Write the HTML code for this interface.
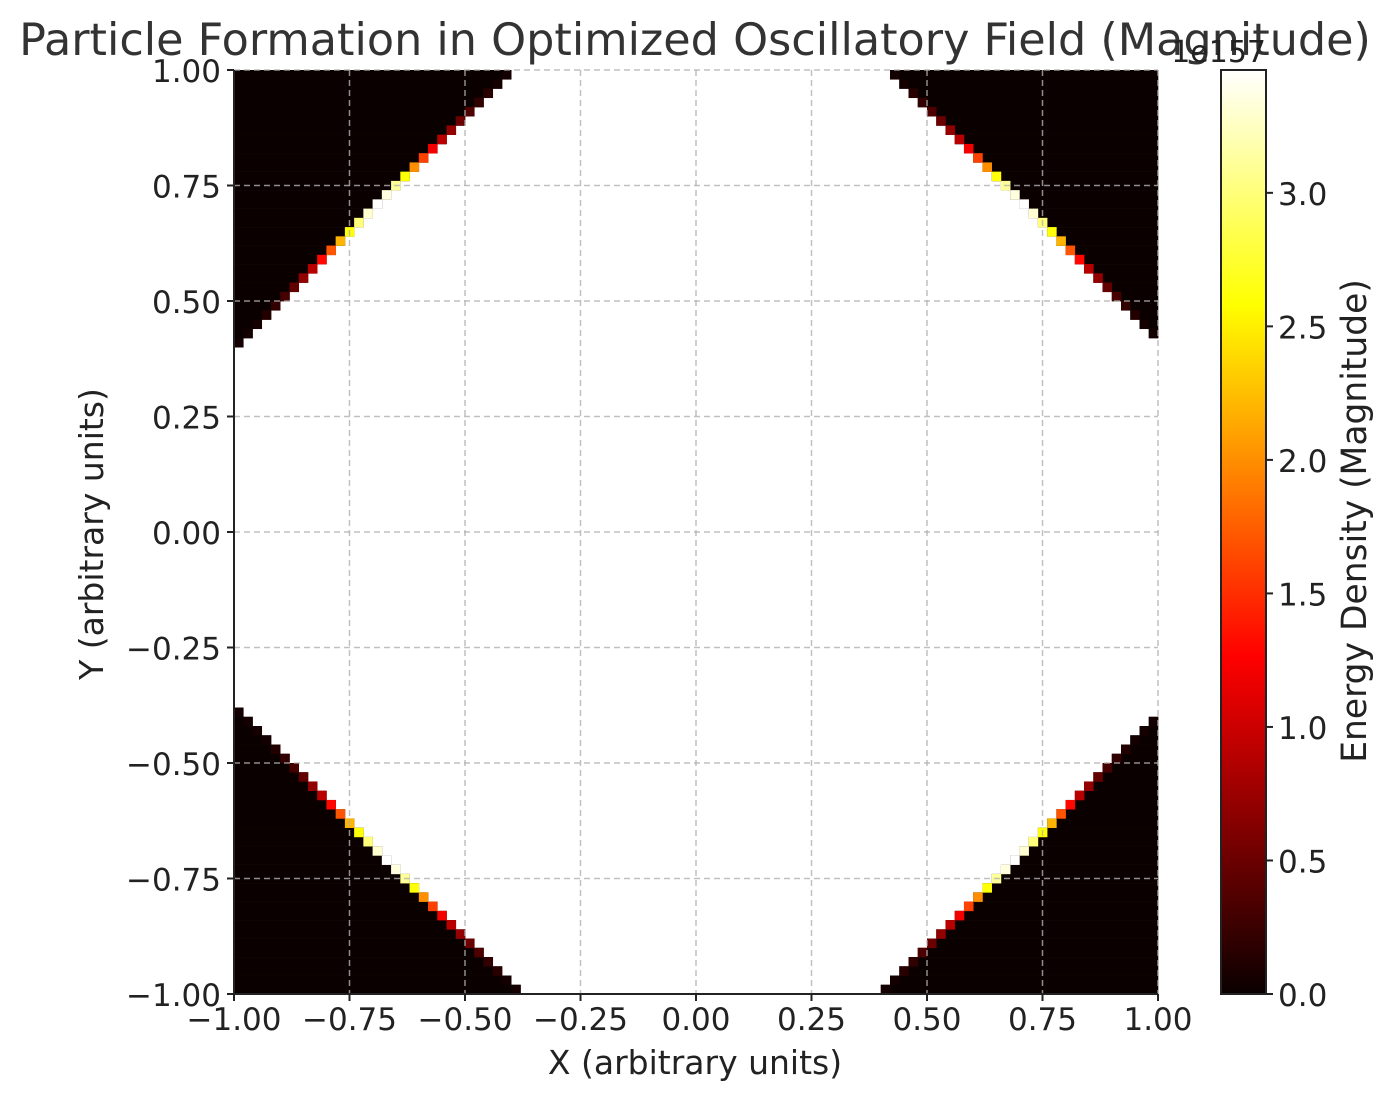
<!DOCTYPE html>
<html><head><meta charset="utf-8"><style>
body{margin:0;background:#fff;}
svg{font-family:"DejaVu Sans","Liberation Sans",sans-serif;}
</style></head><body>
<svg id="chart" width="1393" height="1101" viewBox="0 0 1393 1101">
<defs>
<linearGradient id="hot" x1="0" y1="1" x2="0" y2="0">
<stop offset="0" stop-color="rgb(10,0,0)"/>
<stop offset="0.365" stop-color="rgb(255,0,0)"/>
<stop offset="0.746" stop-color="rgb(255,255,0)"/>
<stop offset="1" stop-color="rgb(255,255,255)"/>
</linearGradient>
</defs>
<rect x="234" y="70" width="924" height="924" fill="#fff"/>
<g id="cells"></g>
<g id="grid"></g>
<g id="axes"></g>
<text x="695" y="55" font-size="44.5" text-anchor="middle" fill="#333">Particle Formation in Optimized Oscillatory Field (Magnitude)</text>
<text x="695" y="1074" font-size="33" text-anchor="middle" fill="#222">X (arbitrary units)</text>
<text transform="translate(103,534) rotate(-90)" font-size="33" text-anchor="middle" fill="#222">Y (arbitrary units)</text>
<rect x="1221" y="70" width="45" height="924" fill="url(#hot)" stroke="#222" stroke-width="2"/>
<g id="cbticks"></g>
<text x="1266" y="62" font-size="30" text-anchor="end" fill="#222">1e157</text>
<text transform="translate(1366,521) rotate(-90)" font-size="34.5" text-anchor="middle" fill="#222">Energy Density (Magnitude)</text>
</svg>
<script>
const N = 100;
const vmax = 3.46;
const xTicks = ["−1.00","−0.75","−0.50","−0.25","0.00","0.25","0.50","0.75","1.00"];
const yTicks = ["−1.00","−0.75","−0.50","−0.25","0.00","0.25","0.50","0.75","1.00"];
const tickValues = [-1,-0.75,-0.5,-0.25,0,0.25,0.5,0.75,1];
const cbTickValues = [0,0.5,1,1.5,2,2.5,3];
const cbTickLabels = ["0.0","0.5","1.0","1.5","2.0","2.5","3.0"];
const edgeProfile = [0.05,0.05,0.15,0.2,0.35,0.5,0.7,0.9,1.2,1.6,2.0,2.6,3.1,3.35,4.0,3.3,3.0,2.6,2.2,1.7,1.3,0.9,0.7,0.45,0.3,0.2,0.12,0.05,0.05,0.05,0.05];
const topLeftCounts = [30,29,28,27,26,25,24,23,22,21,20,19,18,17,16,15,14,13,12,11,10,9,8,7,6,5,4,3,2,1];
const topRightCounts = [29,28,27,26,25,24,23,22,21,20,19,18,17,16,15,14,13,12,11,10,9,8,7,6,5,4,3,2,1];
const bottomLeftCounts = [31,30,29,28,27,26,25,24,23,22,21,20,19,18,17,16,15,14,13,12,11,10,9,8,7,6,5,4,3,2,1];
const bottomRightCounts = [30,29,28,27,26,25,24,23,22,21,20,19,18,17,16,15,14,13,12,11,10,9,8,7,6,5,4,3,2,1];

const X0=234, X1=1158, Y0=70, Y1=994;
const cw=(X1-X0)/N;
const sx=v=>X0+(v+1)/2*(X1-X0);
const sy=v=>Y1-(v+1)/2*(Y1-Y0);
const cby=v=>994-v/vmax*924;
function hot(v){
  let t=Math.max(0,Math.min(1,v/vmax));
  let r=t<0.365?0.0416+(1-0.0416)*t/0.365:1;
  let g=t<0.365?0:(t<0.746?(t-0.365)/0.381:1);
  let b=t<0.746?0:(t-0.746)/0.254;
  return `rgb(${Math.round(r*255)},${Math.round(g*255)},${Math.round(b*255)})`;
}
const NS='http://www.w3.org/2000/svg';
function mk(tag,attrs,parent){const e=document.createElementNS(NS,tag);for(const k in attrs)e.setAttribute(k,attrs[k]);parent.appendChild(e);return e;}
const cells=document.getElementById('cells');
function drawRun(row,col0,len,edgeCol,val,name){
  const r=mk('rect',{x:X0+col0*cw,y:Y0+row*cw,width:len*cw+0.3,height:cw+0.3,fill:hot(0)},cells);
  
  
  const e=mk('rect',{x:X0+edgeCol*cw,y:Y0+row*cw,width:cw+0.3,height:cw+0.3,fill:hot(val)},cells);
  
  
}
topLeftCounts.forEach((c,i)=>drawRun(i,0,c,c-1,edgeProfile[i],'top-left'));
topRightCounts.forEach((c,i)=>drawRun(i,N-c,c,N-c,edgeProfile[i],'top-right'));
bottomLeftCounts.forEach((c,i)=>drawRun(N-1-i,0,c,c-1,edgeProfile[i],'bottom-left'));
bottomRightCounts.forEach((c,i)=>drawRun(N-1-i,N-c,c,N-c,edgeProfile[i],'bottom-right'));

const grid=document.getElementById('grid');
tickValues.forEach(v=>{
  const a=mk('line',{x1:sx(v),x2:sx(v),y1:Y0,y2:Y1,stroke:'#b0b0b0','stroke-width':1.5,'stroke-dasharray':'6,4','stroke-opacity':0.8},grid);
  
  
  const b=mk('line',{x1:X0,x2:X1,y1:sy(v),y2:sy(v),stroke:'#b0b0b0','stroke-width':1.5,'stroke-dasharray':'6,4','stroke-opacity':0.8},grid);
  
  
});
const axes=document.getElementById('axes');
const l1=mk('line',{x1:X0,x2:X0,y1:Y0,y2:Y1,stroke:'#222','stroke-width':2},axes);


const l2=mk('line',{x1:X0,x2:X1,y1:Y1,y2:Y1,stroke:'#222','stroke-width':2},axes);


tickValues.forEach((v,i)=>{
  const m1=mk('line',{x1:sx(v),x2:sx(v),y1:Y1,y2:Y1+7,stroke:'#222','stroke-width':2},axes);
  
  
  const m2=mk('line',{x1:X0-7,x2:X0,y1:sy(v),y2:sy(v),stroke:'#222','stroke-width':2},axes);
  
  
  const t=mk('text',{x:sx(v),y:1030,'font-size':31,'text-anchor':'middle',fill:'#222'},axes);
  t.textContent=xTicks[i];
  
  
  const u=mk('text',{x:221,y:sy(v)+12,'font-size':31,'text-anchor':'end',fill:'#222'},axes);
  u.textContent=yTicks[i];
  
  
});
const cbt=document.getElementById('cbticks');
cbTickValues.forEach((v,i)=>{
  const y=cby(v);
  const l=mk('line',{x1:1266,x2:1273,y1:y,y2:y,stroke:'#222','stroke-width':2},cbt);
  
  
  const t=mk('text',{x:1278,y:y+12,'font-size':31,fill:'#222'},cbt);
  t.textContent=cbTickLabels[i];
  
  
});
</script>
</body></html>
